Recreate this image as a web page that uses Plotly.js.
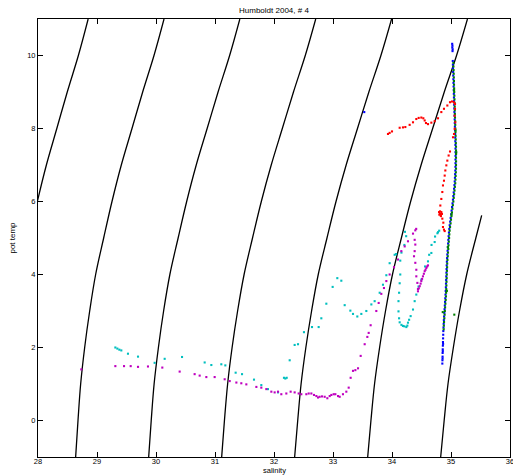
<!DOCTYPE html>
<html><head><meta charset="utf-8">
<script src="https://cdn.plot.ly/plotly-3.0.1.min.js"></script>
<style>html,body{margin:0;padding:0;background:#fff}#chart{width:513px;height:475px}</style>
</head><body><div id="chart"></div>
<script>
// Isopycnal (density) contour lines: temperatures and salinities
var isoT = [-1,0,1,2,3,4,5,6,7,8,9,10,11];
var iso0S = [27.401,27.437,27.478,27.541,27.622,27.720,27.851,27.989,28.142,28.319,28.496,28.684,28.850];
var iso1S = [28.638,28.678,28.723,28.791,28.876,28.977,29.113,29.254,29.412,29.593,29.774,29.966,30.136];
var iso2S = [29.876,29.919,29.968,30.041,30.129,30.235,30.375,30.520,30.682,30.867,31.052,31.248,31.421];
var iso3S = [31.113,31.160,31.214,31.290,31.383,31.493,31.636,31.785,31.953,32.141,32.330,32.530,32.707];
var iso4S = [32.350,32.402,32.459,32.540,32.637,32.750,32.898,33.051,33.223,33.415,33.608,33.812,33.993];
var iso5S = [33.588,33.643,33.704,33.790,33.890,34.008,34.159,34.316,34.493,34.689,34.886,35.094,35.279];
var iso6T = [-1,0,1,2,3,4,5,5.62];
var iso6S = [34.825,34.884,34.949,35.040,35.144,35.266,35.421,35.520];

// Station 4 profiles (salinity, potential temperature)
var blueS = [35.020,35.024,35.022,35.028,35.026,35.030,35.032,35.034,35.036,35.038,35.040,35.042,35.044,35.046,35.048,35.050,35.052,35.054,35.056,35.058,35.060,35.062,35.064,35.066,35.068,35.070,35.072,35.073,35.075,35.076,35.076,35.077,35.076,35.076,35.075,35.073,35.070,35.067,35.063,35.058,35.052,35.046,35.040,35.033,35.026,35.018,35.010,35.002,34.994,34.986,34.978,34.971,34.965,34.960,34.955,34.951,34.946,34.942,34.938,34.934,34.930,34.927,34.925,34.922,34.920,34.918,34.915,34.913,34.910,34.907,34.903,34.899,34.895,34.891,34.887,34.883,34.879,34.876,34.873,34.870,34.868,34.866,34.864,34.862,34.860,34.858,34.857,34.855,34.853,34.866,34.861,34.857,33.530];
var blueT = [10.32,10.27,10.22,10.17,10.12,9.85,9.75,9.65,9.55,9.45,9.35,9.25,9.15,9.05,8.95,8.85,8.75,8.65,8.55,8.45,8.35,8.25,8.15,8.05,7.95,7.85,7.75,7.65,7.55,7.45,7.35,7.25,7.15,7.05,6.95,6.85,6.75,6.65,6.55,6.45,6.35,6.25,6.15,6.05,5.95,5.85,5.75,5.65,5.55,5.45,5.35,5.25,5.15,5.05,4.95,4.85,4.75,4.65,4.55,4.45,4.35,4.25,4.15,4.05,3.95,3.85,3.75,3.65,3.55,3.45,3.35,3.25,3.15,3.05,2.95,2.85,2.75,2.65,2.55,2.45,2.35,2.25,2.15,2.05,1.95,1.85,1.75,1.65,1.56,2.10,1.90,1.70,8.45];

var greenS = [35.040,35.042,35.044,35.046,35.048,35.050,35.051,35.053,35.055,35.057,35.059,35.061,35.063,35.064,35.066,35.068,35.070,35.072,35.074,35.076,35.078,35.080,35.082,35.085,35.085,35.086,35.085,35.086,35.085,35.085,35.082,35.079,35.076,35.072,35.066,35.060,35.053,35.047,35.040,35.032,35.024,35.016,35.008,35.000,34.993,34.984,34.977,34.972,34.968,34.963,34.958,34.954,34.949,34.945,34.940,34.936,34.934,34.931,34.929,34.927,34.924,34.922,34.920,34.917,34.914,34.910,34.905,34.900,34.896,34.892,34.887,34.882,34.879,34.876,35.052,35.090,35.078,35.010,34.948,34.930,34.860,35.056];
var greenT = [9.8,9.7,9.6,9.5,9.4,9.3,9.2,9.1,9.0,8.9,8.8,8.7,8.6,8.5,8.4,8.3,8.2,8.1,8.0,7.9,7.8,7.7,7.6,7.5,7.4,7.3,7.2,7.1,7.0,6.9,6.8,6.7,6.6,6.5,6.4,6.3,6.2,6.1,6.0,5.9,5.8,5.7,5.6,5.5,5.4,5.3,5.2,5.1,5.0,4.9,4.8,4.7,4.6,4.5,4.4,4.3,4.2,4.1,4.0,3.9,3.8,3.7,3.6,3.5,3.4,3.3,3.2,3.1,3.0,2.9,2.8,2.7,2.6,2.5,9.05,7.35,7.95,5.65,4.75,3.55,2.97,2.90];

var redS = [33.932,33.960,34.000,34.130,34.186,34.226,34.299,34.356,34.412,34.452,34.497,34.531,34.554,34.576,34.610,34.667,34.723,34.780,34.836,34.881,34.938,34.983,35.017,35.051,35.068,35.068,35.062,35.073,35.062,35.051,35.034,34.983,34.960,34.938,34.921,34.904,34.893,34.881,34.864,34.853,34.836,34.819,34.797,34.814,34.836,34.825,34.802,34.847,34.814,34.830,34.853,34.870,34.864,34.881,34.893];
var redT = [7.85,7.88,7.92,8.02,8.03,8.04,8.10,8.17,8.26,8.29,8.30,8.28,8.22,8.15,8.12,8.16,8.20,8.28,8.45,8.54,8.63,8.72,8.74,8.72,8.67,8.54,8.35,8.17,7.99,7.85,7.76,7.37,7.26,7.12,6.99,6.85,6.71,6.57,6.44,6.26,6.07,5.89,5.71,5.66,5.71,5.62,5.64,5.66,5.73,5.60,5.53,5.42,5.30,5.23,5.19];

var cyanS = [29.311,29.345,29.379,29.412,29.525,29.695,29.977,30.147,30.441,30.825,30.938,31.107,31.175,31.350,31.458,31.661,31.785,31.898,32.068,32.169,32.192,32.215,32.266,32.350,32.407,32.508,32.644,32.757,32.802,32.887,32.994,33.073,33.141,33.198,33.294,33.339,33.412,33.480,33.565,33.650,33.706,33.791,33.847,33.904,33.960,34.045,34.070,34.160,34.210,34.220,34.240,34.140,34.140,34.130,34.120,34.110,34.110,34.120,34.130,34.160,34.186,34.210,34.243,34.260,34.271,34.290,34.316,34.356,34.384,34.412,34.450,34.497,34.560,34.610,34.630,34.667,34.670,34.723,34.730,34.770,34.780,34.800];
var cyanT = [2.00,1.97,1.94,1.92,1.83,1.75,1.58,1.69,1.74,1.59,1.52,1.54,1.51,1.31,1.27,1.12,0.97,0.86,0.77,1.17,1.15,1.17,1.65,2.07,2.09,2.42,2.56,2.56,2.80,3.20,3.66,3.90,3.83,3.16,3.01,2.92,2.85,2.92,3.00,3.18,3.27,3.50,3.72,3.98,4.31,4.54,4.56,4.60,4.81,5.17,5.05,4.38,4.00,3.76,3.50,3.27,2.99,2.80,2.69,2.62,2.59,2.58,2.56,2.60,2.68,2.76,2.86,3.04,3.27,3.45,3.67,3.86,4.22,4.36,4.54,4.59,4.81,4.89,5.04,5.13,5.16,5.20];

var magS = [28.734,29.311,29.458,29.571,29.695,29.864,30.107,30.401,30.655,30.740,30.853,30.994,31.164,31.249,31.362,31.446,31.531,31.701,31.785,31.870,31.955,32.011,32.068,32.124,32.209,32.282,32.350,32.418,32.463,32.548,32.588,32.633,32.678,32.718,32.746,32.774,32.814,32.859,32.904,32.944,32.972,33.011,33.040,33.085,33.113,33.169,33.226,33.266,33.299,33.339,33.379,33.424,33.469,33.537,33.582,33.605,33.638,33.734,33.774,33.819,33.864,33.904,33.960,34.034,34.102,34.158,34.215,34.271,34.356,34.395,34.410,34.384,34.395,34.384,34.373,34.395,34.412,34.412,34.430,34.440,34.440,34.455,34.470,34.485,34.497,34.510,34.525,34.540,34.554,34.568,34.582,34.596,34.610];
var magT = [1.40,1.49,1.49,1.49,1.47,1.48,1.45,1.34,1.27,1.23,1.19,1.19,1.13,1.08,1.04,1.02,0.99,0.92,0.90,0.86,0.79,0.77,0.79,0.72,0.74,0.79,0.77,0.74,0.72,0.72,0.74,0.74,0.70,0.67,0.63,0.65,0.66,0.65,0.61,0.67,0.70,0.72,0.72,0.67,0.65,0.72,0.79,0.90,1.17,1.36,1.38,1.43,1.77,2.09,2.29,2.40,2.61,3.00,3.22,3.47,3.63,3.82,4.00,4.20,4.41,4.64,4.77,4.91,5.12,5.21,5.25,4.95,4.82,4.64,4.50,4.32,4.13,3.95,3.77,3.60,3.54,3.62,3.68,3.75,3.82,3.88,3.95,4.02,4.09,4.13,4.18,4.22,4.25];

var FONT = 'Liberation Sans, Arial, Helvetica, sans-serif';
function iso(s, t) {
  return {x: s, y: t, mode: 'lines', type: 'scatter', hoverinfo: 'skip',
          line: {color: '#000', width: 1.3, shape: 'spline', smoothing: 1}, showlegend: false};
}
function pts(s, t, c) {
  return {x: s, y: t, mode: 'markers', type: 'scatter', showlegend: false,
          marker: {color: c, size: 2.1, symbol: 'square', line: {width: 0}}};
}
var data = [
  iso(iso0S, isoT), iso(iso1S, isoT), iso(iso2S, isoT), iso(iso3S, isoT),
  iso(iso4S, isoT), iso(iso5S, isoT), iso(iso6S, iso6T),
  pts(blueS, blueT, '#0000ff'),
  pts(greenS, greenT, '#008000'),
  pts(redS, redT, '#ff0000'),
  pts(cyanS, cyanT, '#00bfbf'),
  pts(magS, magT, '#bf00bf')
];
var axisCommon = {
  showgrid: false, zeroline: false, showline: true, linecolor: '#000', linewidth: 1,
  mirror: 'ticks', ticks: 'inside', ticklen: 5, tickwidth: 1, tickcolor: '#000',
  tickfont: {family: FONT, size: 7.5, color: '#000'}
};
var layout = {
  width: 513, height: 475,
  margin: {l: 38, r: 3, t: 19, b: 18},
  paper_bgcolor: '#fff', plot_bgcolor: '#fff',
  font: {family: FONT, size: 8, color: '#000'},
  title: {text: 'Humboldt 2004, # 4', font: {family: FONT, size: 8, color: '#000'},
          x: 0.534, xanchor: 'center', y: 0.979, yanchor: 'middle'},
  xaxis: Object.assign({}, axisCommon, {range: [28, 36], dtick: 1, tick0: 28,
          ticklabelstandoff: -3, ticklabeloverflow: 'allow'}),
  yaxis: Object.assign({}, axisCommon, {range: [-1, 11], dtick: 2, tick0: 0,
          title: {text: 'pot temp', font: {family: FONT, size: 8, color: '#000'}, standoff: 10}}),
  annotations: [{text: 'salinity', xref: 'paper', yref: 'paper', x: 0.5, y: -0.031,
                 xanchor: 'center', yanchor: 'middle', showarrow: false,
                 font: {family: FONT, size: 7.5, color: '#000'}}],
  showlegend: false
};
Plotly.newPlot('chart', data, layout, {displayModeBar: false, staticPlot: true});
</script>
</body></html>
